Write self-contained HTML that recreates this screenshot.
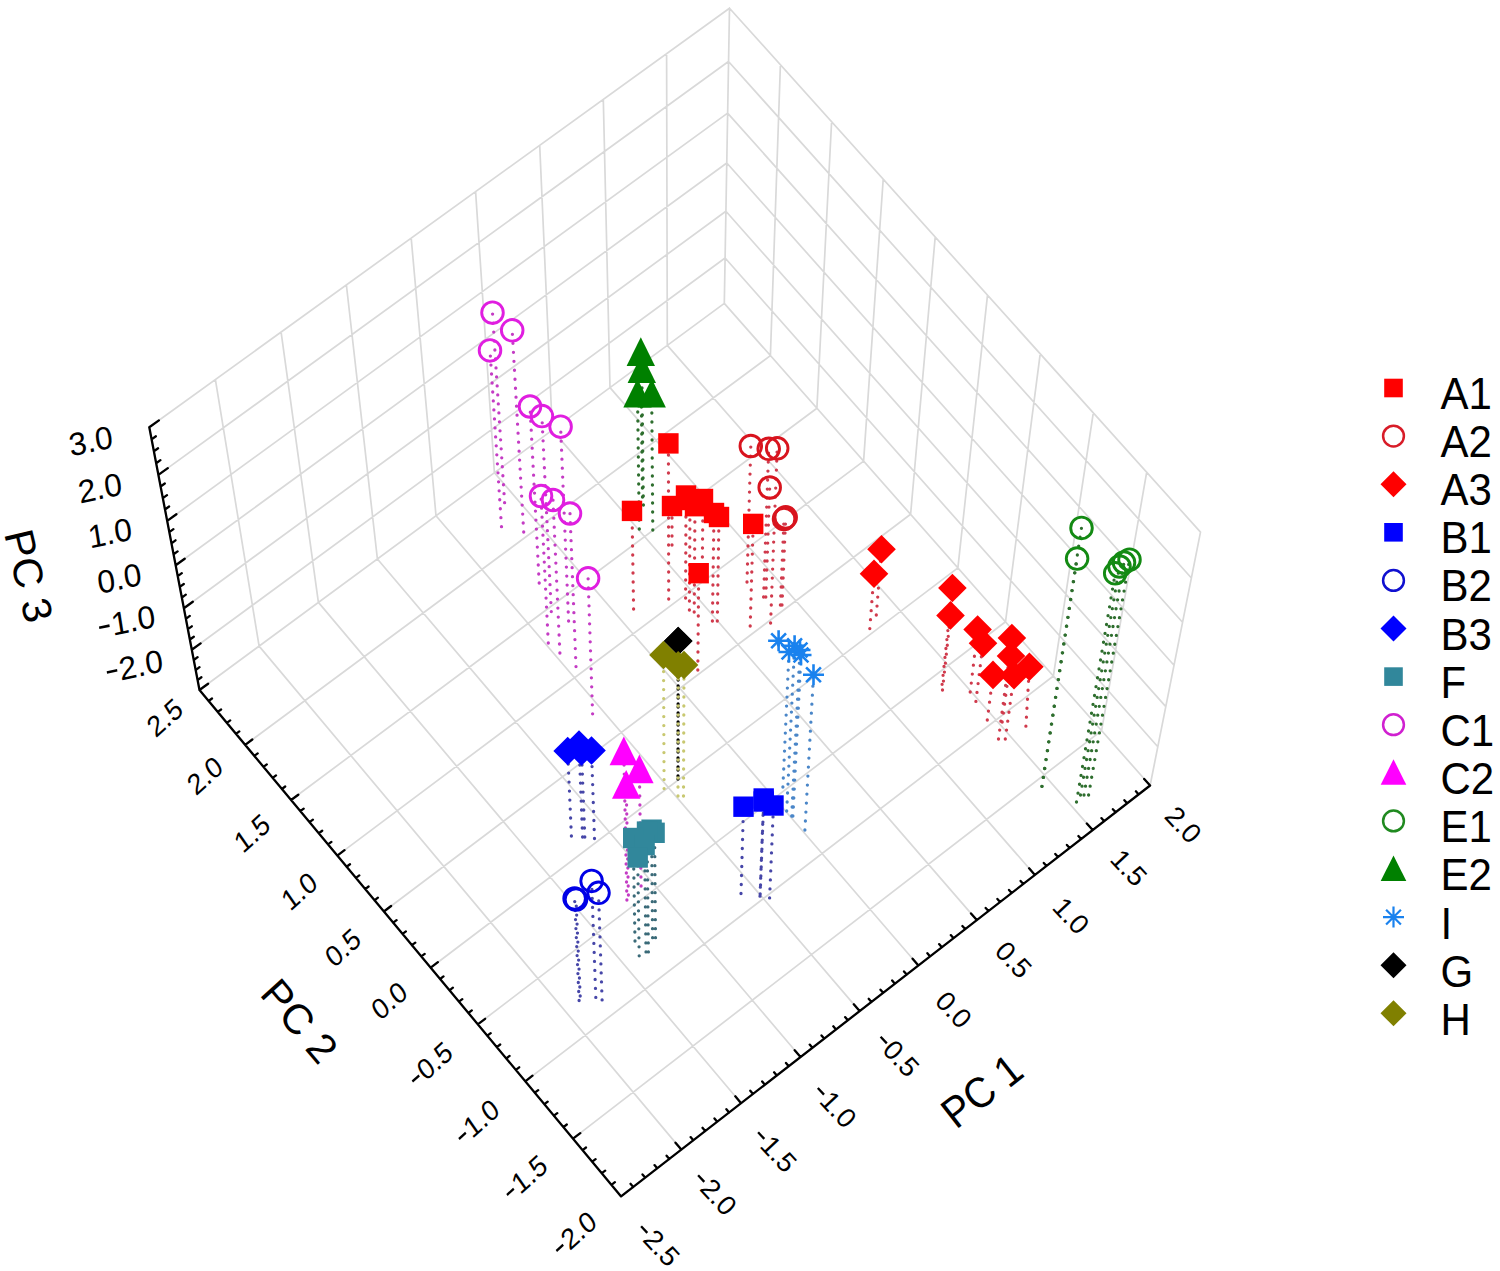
<!DOCTYPE html>
<html><head><meta charset="utf-8"><style>
html,body{margin:0;padding:0;background:#fff;}
body{width:1500px;height:1271px;overflow:hidden;font-family:"Liberation Sans",sans-serif;}
svg{display:block;}
</style></head><body><svg width="1500" height="1271" viewBox="0 0 1500 1271"><path d="M621.1 1196.4L199.5 690.0M681.3 1149.6L259.1 646.1M741.1 1103.2L318.4 602.4M800.5 1057.0L377.4 559.0M859.6 1011.1L436.0 515.8M918.4 965.5L494.4 472.8M976.8 920.1L552.3 430.1M1034.9 875.0L610.0 387.6M1092.7 830.1L667.3 345.4M1150.1 785.5L724.3 303.4M621.1 1196.4L1150.1 785.5M573.0 1138.6L1101.6 730.6M525.3 1081.3L1053.4 676.0M477.8 1024.3L1005.5 621.8M430.7 967.7L957.9 567.9M383.9 911.5L910.6 514.3M337.3 855.6L863.6 461.1M291.1 800.0L816.9 408.2M245.2 744.9L770.4 355.6M199.5 690.0L724.3 303.4M199.5 690.0L149.3 427.3M259.1 646.1L215.4 379.6M318.4 602.4L281.1 332.1M377.4 559.0L346.4 285.0M436.0 515.8L411.2 238.1M494.4 472.8L475.6 191.6M552.3 430.1L539.7 145.3M610.0 387.6L603.3 99.3M667.3 345.4L666.6 53.6M724.3 303.4L729.5 8.2M199.5 690.0L724.3 303.4M191.8 649.8L725.1 258.0M183.9 608.2L725.9 211.3M175.7 565.3L726.8 163.0M167.2 520.9L727.6 113.1M158.4 474.9L728.5 61.5M149.3 427.3L729.5 8.2M1150.1 785.5L1200.5 532.1M1101.6 730.6L1146.7 472.2M1053.4 676.0L1093.3 412.8M1005.5 621.8L1040.2 353.8M957.9 567.9L987.5 295.2M910.6 514.3L935.2 237.0M863.6 461.1L883.2 179.2M816.9 408.2L831.6 121.8M770.4 355.6L780.4 64.8M724.3 303.4L729.5 8.2M1150.1 785.5L724.3 303.4M1157.8 746.7L725.1 258.0M1165.8 706.6L725.9 211.3M1174.0 665.2L726.8 163.0M1182.5 622.3L727.6 113.1M1191.4 578.0L728.5 61.5M1200.5 532.1L729.5 8.2" fill="none" stroke="#d9d9d9" stroke-width="1.7" stroke-linecap="round"/><path d="M199.5 690.0L149.3 427.3M199.5 690.0L621.1 1196.4M621.1 1196.4L1150.1 785.5M199.5 690.0L208.1 683.7M197.6 680.1L201.4 677.3M195.7 670.1L199.5 667.2M193.8 660.0L197.6 657.1M191.8 649.8L200.6 643.4M189.9 639.5L193.8 636.7M187.9 629.2L191.8 626.3M185.9 618.8L189.8 615.9M183.9 608.2L192.8 601.7M181.9 597.6L185.8 594.7M179.8 586.9L183.8 584.0M177.8 576.2L181.8 573.2M175.7 565.3L184.7 558.7M173.6 554.3L177.6 551.4M171.5 543.3L175.5 540.3M169.3 532.1L173.4 529.1M167.2 520.9L176.4 514.2M165.0 509.5L169.1 506.5M162.9 498.1L167.0 495.1M160.6 486.5L164.8 483.5M158.4 474.9L167.8 468.1M156.2 463.2L160.4 460.1M153.9 451.3L158.1 448.3M151.6 439.4L155.9 436.3M149.3 427.3L158.9 420.4M621.1 1196.4L628.4 1190.7M611.5 1184.8L614.9 1182.2M601.8 1173.2L605.2 1170.6M592.2 1161.7L595.6 1159.1M582.6 1150.1L586.0 1147.5M573.0 1138.6L580.3 1133.1M563.5 1127.1L566.8 1124.5M553.9 1115.7L557.3 1113.1M544.4 1104.2L547.7 1101.6M534.8 1092.7L538.2 1090.1M525.3 1081.3L532.5 1075.7M515.8 1069.9L519.2 1067.3M506.3 1058.5L509.6 1055.9M496.8 1047.1L500.2 1044.5M487.3 1035.7L490.7 1033.1M477.8 1024.3L485.1 1018.8M468.4 1013.0L471.8 1010.4M459.0 1001.6L462.3 999.1M449.5 990.3L452.9 987.7M440.1 979.0L443.5 976.4M430.7 967.7L437.9 962.2M421.3 956.4L424.7 953.9M411.9 945.2L415.3 942.6M402.6 933.9L405.9 931.4M393.2 922.7L396.6 920.1M383.9 911.5L391.1 906.0M374.5 900.3L377.9 897.7M365.2 889.1L368.6 886.5M355.9 877.9L359.3 875.4M346.6 866.7L350.0 864.2M337.3 855.6L344.5 850.2M328.1 844.4L331.4 841.9M318.8 833.3L322.2 830.8M309.6 822.2L312.9 819.7M300.3 811.1L303.7 808.6M291.1 800.0L298.3 794.7M281.9 789.0L285.2 786.5M272.7 777.9L276.0 775.4M263.5 766.9L266.8 764.4M254.3 755.9L257.7 753.4M245.2 744.9L252.3 739.5M236.0 733.9L239.3 731.4M226.9 722.9L230.2 720.4M217.7 711.9L221.1 709.5M208.6 701.0L212.0 698.5M199.5 690.0L206.7 684.8M621.1 1196.4L615.3 1189.4M633.2 1187.0L630.5 1183.8M645.2 1177.6L642.5 1174.4M657.2 1168.3L654.5 1165.1M669.3 1159.0L666.6 1155.7M681.3 1149.6L675.5 1142.7M693.3 1140.3L690.6 1137.1M705.2 1131.0L702.5 1127.8M717.2 1121.7L714.5 1118.5M729.1 1112.5L726.4 1109.2M741.1 1103.2L735.3 1096.3M753.0 1093.9L750.3 1090.7M764.9 1084.7L762.2 1081.5M776.8 1075.5L774.1 1072.3M788.7 1066.2L786.0 1063.0M800.5 1057.0L794.7 1050.2M812.4 1047.8L809.7 1044.6M824.2 1038.6L821.5 1035.4M836.0 1029.4L833.3 1026.3M847.8 1020.3L845.1 1017.1M859.6 1011.1L853.8 1004.3M871.4 1002.0L868.7 998.8M883.2 992.8L880.5 989.7M894.9 983.7L892.2 980.5M906.7 974.6L904.0 971.4M918.4 965.5L912.6 958.7M930.1 956.4L927.4 953.2M941.8 947.3L939.1 944.1M953.5 938.2L950.8 935.1M965.2 929.1L962.4 926.0M976.8 920.1L971.0 913.4M988.5 911.0L985.7 907.9M1000.1 902.0L997.4 898.9M1011.7 893.0L1009.0 889.9M1023.3 884.0L1020.6 880.9M1034.9 875.0L1029.1 868.3M1046.5 866.0L1043.8 862.9M1058.0 857.0L1055.3 853.9M1069.6 848.0L1066.9 844.9M1081.1 839.1L1078.4 836.0M1092.7 830.1L1086.8 823.5M1104.2 821.2L1101.4 818.1M1115.7 812.3L1112.9 809.2M1127.1 803.3L1124.4 800.2M1138.6 794.4L1135.9 791.3M1150.1 785.5L1144.2 778.9" fill="none" stroke="#000" stroke-width="2.3" stroke-linejoin="round" stroke-linecap="round"/><g fill="#fff"><circle cx="492.5" cy="312.7" r="10.8"/><circle cx="512.2" cy="330.3" r="10.8"/><circle cx="490.0" cy="350.4" r="10.8"/><circle cx="530.0" cy="406.5" r="10.8"/><circle cx="541.9" cy="416.1" r="10.8"/><circle cx="560.6" cy="426.7" r="10.8"/><circle cx="541.0" cy="496.0" r="10.8"/><circle cx="553.0" cy="500.0" r="10.8"/><circle cx="570.0" cy="513.5" r="10.8"/><circle cx="588.1" cy="578.3" r="10.8"/><circle cx="750.8" cy="446.0" r="10.8"/><circle cx="768.7" cy="448.8" r="10.8"/><circle cx="777.2" cy="448.3" r="10.8"/><circle cx="769.7" cy="487.5" r="10.8"/><circle cx="785.7" cy="517.3" r="10.8"/><circle cx="784.0" cy="519.0" r="10.8"/><circle cx="1081.5" cy="527.9" r="10.8"/><circle cx="1077.1" cy="558.6" r="10.8"/><circle cx="1129.5" cy="559.7" r="10.8"/><circle cx="1124.0" cy="562.5" r="10.8"/><circle cx="1119.5" cy="566.5" r="10.8"/><circle cx="1115.2" cy="573.3" r="10.8"/><circle cx="574.6" cy="898.5" r="10.8"/><circle cx="576.0" cy="899.5" r="10.8"/><circle cx="591.6" cy="880.9" r="10.8"/><circle cx="598.5" cy="892.8" r="10.8"/></g><g fill="none" stroke-width="3.3" stroke-linecap="round" stroke-dasharray="0 9"><line x1="504.6" y1="502.7" x2="492.5" y2="312.7" stroke="#c43cc4"/><line x1="523.7" y1="532.0" x2="512.2" y2="330.3" stroke="#c43cc4"/><line x1="501.5" y1="526.7" x2="490.0" y2="350.4" stroke="#c43cc4"/><line x1="539.2" y1="583.0" x2="530.0" y2="406.5" stroke="#c43cc4"/><line x1="551.3" y1="611.6" x2="541.9" y2="416.1" stroke="#c43cc4"/><line x1="568.6" y1="621.0" x2="560.6" y2="426.7" stroke="#c43cc4"/><line x1="548.3" y1="643.0" x2="541.0" y2="496.0" stroke="#c43cc4"/><line x1="559.9" y1="653.0" x2="553.0" y2="500.0" stroke="#c43cc4"/><line x1="576.0" y1="666.6" x2="570.0" y2="513.5" stroke="#c43cc4"/><line x1="592.6" y1="713.8" x2="588.1" y2="578.3" stroke="#c43cc4"/><line x1="642.5" y1="497.0" x2="640.8" y2="353.2" stroke="#2e6e2e"/><line x1="643.4" y1="505.0" x2="641.8" y2="370.2" stroke="#2e6e2e"/><line x1="639.3" y1="529.0" x2="637.5" y2="394.7" stroke="#2e6e2e"/><line x1="652.8" y1="530.0" x2="651.7" y2="394.7" stroke="#2e6e2e"/><line x1="668.7" y1="599.0" x2="668.4" y2="443.4" stroke="#d03a4c"/><line x1="633.6" y1="609.0" x2="632.0" y2="510.9" stroke="#d03a4c"/><line x1="672.0" y1="545.0" x2="672.0" y2="506.0" stroke="#d03a4c"/><line x1="685.6" y1="598.0" x2="686.0" y2="495.5" stroke="#d03a4c"/><line x1="689.4" y1="610.0" x2="690.0" y2="500.0" stroke="#d03a4c"/><line x1="694.2" y1="612.0" x2="695.0" y2="506.2" stroke="#d03a4c"/><line x1="702.2" y1="575.0" x2="703.0" y2="499.0" stroke="#d03a4c"/><line x1="712.4" y1="621.0" x2="714.0" y2="513.0" stroke="#d03a4c"/><line x1="717.3" y1="621.0" x2="719.0" y2="517.0" stroke="#d03a4c"/><line x1="697.8" y1="670.0" x2="698.7" y2="573.2" stroke="#d03a4c"/><line x1="750.2" y1="626.0" x2="753.2" y2="523.9" stroke="#d03a4c"/><line x1="747.0" y1="582.0" x2="750.8" y2="446.0" stroke="#d03a4c"/><line x1="763.6" y1="597.0" x2="768.7" y2="448.8" stroke="#d03a4c"/><line x1="770.6" y1="623.0" x2="777.2" y2="448.3" stroke="#d03a4c"/><line x1="765.8" y1="597.0" x2="769.7" y2="487.5" stroke="#d03a4c"/><line x1="782.0" y1="605.0" x2="785.7" y2="517.3" stroke="#d03a4c"/><line x1="780.4" y1="605.0" x2="784.0" y2="519.0" stroke="#d03a4c"/><line x1="876.3" y1="615.0" x2="881.5" y2="549.3" stroke="#d03a4c"/><line x1="869.8" y1="628.6" x2="874.0" y2="573.8" stroke="#d03a4c"/><line x1="942.1" y1="684.3" x2="952.4" y2="588.0" stroke="#d03a4c"/><line x1="942.5" y1="690.0" x2="950.5" y2="615.4" stroke="#d03a4c"/><line x1="970.2" y1="692.0" x2="977.6" y2="629.5" stroke="#d03a4c"/><line x1="975.9" y1="701.4" x2="983.0" y2="643.3" stroke="#d03a4c"/><line x1="998.5" y1="739.0" x2="1011.9" y2="638.0" stroke="#d03a4c"/><line x1="1002.2" y1="722.0" x2="1011.0" y2="656.0" stroke="#d03a4c"/><line x1="987.3" y1="720.0" x2="993.0" y2="674.9" stroke="#d03a4c"/><line x1="1025.9" y1="726.2" x2="1029.4" y2="666.7" stroke="#d03a4c"/><line x1="1005.3" y1="739.0" x2="1014.0" y2="675.3" stroke="#d03a4c"/><line x1="1041.8" y1="786.3" x2="1081.5" y2="527.9" stroke="#2e6e2e"/><line x1="1042.1" y1="786.3" x2="1077.1" y2="558.6" stroke="#2e6e2e"/><line x1="1088.6" y1="795.0" x2="1129.5" y2="559.7" stroke="#2e6e2e"/><line x1="1084.0" y1="795.0" x2="1124.0" y2="562.5" stroke="#2e6e2e"/><line x1="1080.5" y1="795.0" x2="1119.5" y2="566.5" stroke="#2e6e2e"/><line x1="1076.5" y1="802.0" x2="1115.2" y2="573.3" stroke="#2e6e2e"/><line x1="778.4" y1="645.0" x2="778.6" y2="640.8" stroke="#4a86c8"/><line x1="786.7" y1="811.0" x2="794.6" y2="645.8" stroke="#4a86c8"/><line x1="782.9" y1="787.0" x2="789.0" y2="652.0" stroke="#4a86c8"/><line x1="791.7" y1="816.0" x2="800.0" y2="650.0" stroke="#4a86c8"/><line x1="792.9" y1="816.0" x2="801.0" y2="655.0" stroke="#4a86c8"/><line x1="804.9" y1="830.0" x2="813.5" y2="674.8" stroke="#4a86c8"/><line x1="741.0" y1="893.5" x2="743.5" y2="806.7" stroke="#4646a8"/><line x1="760.0" y1="896.2" x2="763.7" y2="798.5" stroke="#4646a8"/><line x1="760.2" y1="894.0" x2="763.7" y2="801.5" stroke="#4646a8"/><line x1="769.6" y1="897.9" x2="773.5" y2="805.5" stroke="#4646a8"/><line x1="579.1" y1="1000.5" x2="574.6" y2="898.5" stroke="#4646a8"/><line x1="580.2" y1="996.0" x2="576.0" y2="899.5" stroke="#4646a8"/><line x1="595.8" y1="997.4" x2="591.6" y2="880.9" stroke="#4646a8"/><line x1="602.1" y1="999.9" x2="598.5" y2="892.8" stroke="#4646a8"/><line x1="571.4" y1="836.0" x2="567.7" y2="751.0" stroke="#4646a8"/><line x1="582.6" y1="837.0" x2="579.0" y2="744.5" stroke="#4646a8"/><line x1="584.8" y1="837.0" x2="581.5" y2="751.5" stroke="#4646a8"/><line x1="594.5" y1="838.5" x2="591.5" y2="750.5" stroke="#4646a8"/><line x1="626.9" y1="900.0" x2="623.8" y2="752.5" stroke="#c43cc4"/><line x1="641.1" y1="886.0" x2="639.4" y2="770.5" stroke="#c43cc4"/><line x1="628.4" y1="895.0" x2="626.2" y2="786.0" stroke="#c43cc4"/><line x1="652.6" y1="937.7" x2="651.6" y2="829.7" stroke="#3a6a78"/><line x1="655.5" y1="937.7" x2="654.6" y2="832.8" stroke="#3a6a78"/><line x1="648.4" y1="951.9" x2="647.0" y2="831.6" stroke="#3a6a78"/><line x1="635.0" y1="941.0" x2="633.2" y2="838.0" stroke="#3a6a78"/><line x1="646.0" y1="951.9" x2="644.6" y2="845.1" stroke="#3a6a78"/><line x1="639.2" y1="955.8" x2="637.7" y2="857.5" stroke="#3a6a78"/><line x1="678.0" y1="776.0" x2="678.2" y2="641.0" stroke="#000"/><line x1="678.0" y1="779.0" x2="678.2" y2="641.0" stroke="#000"/><line x1="664.1" y1="788.6" x2="663.5" y2="655.0" stroke="#c8c870"/><line x1="683.5" y1="796.0" x2="684.0" y2="665.0" stroke="#c8c870"/><line x1="678.0" y1="796.0" x2="678.2" y2="665.2" stroke="#c8c870"/></g><circle cx="492.5" cy="312.7" r="10.8" fill="none" stroke="#e01ee0" stroke-width="2.9"/><circle cx="512.2" cy="330.3" r="10.8" fill="none" stroke="#e01ee0" stroke-width="2.9"/><circle cx="490.0" cy="350.4" r="10.8" fill="none" stroke="#e01ee0" stroke-width="2.9"/><circle cx="530.0" cy="406.5" r="10.8" fill="none" stroke="#e01ee0" stroke-width="2.9"/><circle cx="541.9" cy="416.1" r="10.8" fill="none" stroke="#e01ee0" stroke-width="2.9"/><circle cx="560.6" cy="426.7" r="10.8" fill="none" stroke="#e01ee0" stroke-width="2.9"/><circle cx="541.0" cy="496.0" r="10.8" fill="none" stroke="#e01ee0" stroke-width="2.9"/><circle cx="553.0" cy="500.0" r="10.8" fill="none" stroke="#e01ee0" stroke-width="2.9"/><circle cx="570.0" cy="513.5" r="10.8" fill="none" stroke="#e01ee0" stroke-width="2.9"/><circle cx="588.1" cy="578.3" r="10.8" fill="none" stroke="#e01ee0" stroke-width="2.9"/><path d="M640.8 337.2L655.0 365.9L626.6 365.9Z" fill="#008000"/><path d="M641.8 354.2L656.0 382.9L627.6 382.9Z" fill="#008000"/><path d="M637.5 378.7L651.7 407.4L623.3 407.4Z" fill="#008000"/><path d="M651.7 378.7L665.9 407.4L637.5 407.4Z" fill="#008000"/><rect x="658.2" y="433.2" width="20.4" height="20.4" fill="#ff0000"/><rect x="621.8" y="500.7" width="20.4" height="20.4" fill="#ff0000"/><rect x="661.8" y="495.8" width="20.4" height="20.4" fill="#ff0000"/><rect x="675.8" y="485.3" width="20.4" height="20.4" fill="#ff0000"/><rect x="679.8" y="489.8" width="20.4" height="20.4" fill="#ff0000"/><rect x="684.8" y="496.0" width="20.4" height="20.4" fill="#ff0000"/><rect x="692.8" y="488.8" width="20.4" height="20.4" fill="#ff0000"/><rect x="703.8" y="502.8" width="20.4" height="20.4" fill="#ff0000"/><rect x="708.8" y="506.8" width="20.4" height="20.4" fill="#ff0000"/><rect x="688.5" y="563.0" width="20.4" height="20.4" fill="#ff0000"/><rect x="743.0" y="513.7" width="20.4" height="20.4" fill="#ff0000"/><circle cx="750.8" cy="446.0" r="10.8" fill="none" stroke="#d8141e" stroke-width="2.9"/><circle cx="768.7" cy="448.8" r="10.8" fill="none" stroke="#d8141e" stroke-width="2.9"/><circle cx="777.2" cy="448.3" r="10.8" fill="none" stroke="#d8141e" stroke-width="2.9"/><circle cx="769.7" cy="487.5" r="10.8" fill="none" stroke="#d8141e" stroke-width="2.9"/><circle cx="785.7" cy="517.3" r="10.8" fill="none" stroke="#d8141e" stroke-width="2.9"/><circle cx="784.0" cy="519.0" r="10.8" fill="none" stroke="#d8141e" stroke-width="2.9"/><path d="M881.5 535.0L895.8 549.3L881.5 563.6L867.2 549.3Z" fill="#ff0000"/><path d="M874.0 559.5L888.3 573.8L874.0 588.1L859.7 573.8Z" fill="#ff0000"/><path d="M952.4 573.7L966.7 588.0L952.4 602.3L938.1 588.0Z" fill="#ff0000"/><path d="M950.5 601.1L964.8 615.4L950.5 629.7L936.2 615.4Z" fill="#ff0000"/><path d="M977.6 615.2L991.9 629.5L977.6 643.8L963.3 629.5Z" fill="#ff0000"/><path d="M983.0 629.0L997.3 643.3L983.0 657.6L968.7 643.3Z" fill="#ff0000"/><path d="M1011.9 623.7L1026.2 638.0L1011.9 652.3L997.6 638.0Z" fill="#ff0000"/><path d="M1011.0 641.7L1025.3 656.0L1011.0 670.3L996.7 656.0Z" fill="#ff0000"/><path d="M993.0 660.6L1007.3 674.9L993.0 689.2L978.7 674.9Z" fill="#ff0000"/><path d="M1029.4 652.4L1043.7 666.7L1029.4 681.0L1015.1 666.7Z" fill="#ff0000"/><path d="M1014.0 661.0L1028.3 675.3L1014.0 689.6L999.7 675.3Z" fill="#ff0000"/><circle cx="1081.5" cy="527.9" r="10.8" fill="none" stroke="#138a13" stroke-width="2.9"/><circle cx="1077.1" cy="558.6" r="10.8" fill="none" stroke="#138a13" stroke-width="2.9"/><circle cx="1129.5" cy="559.7" r="10.8" fill="none" stroke="#138a13" stroke-width="2.9"/><circle cx="1124.0" cy="562.5" r="10.8" fill="none" stroke="#138a13" stroke-width="2.9"/><circle cx="1119.5" cy="566.5" r="10.8" fill="none" stroke="#138a13" stroke-width="2.9"/><circle cx="1115.2" cy="573.3" r="10.8" fill="none" stroke="#138a13" stroke-width="2.9"/><path d="M768.1 640.8H789.1M778.6 630.3V651.3M771.2 633.4L786.0 648.2M771.2 648.2L786.0 633.4" stroke="#1a82ee" stroke-width="2.6" fill="none"/><path d="M784.1 645.8H805.1M794.6 635.3V656.3M787.2 638.4L802.0 653.2M787.2 653.2L802.0 638.4" stroke="#1a82ee" stroke-width="2.6" fill="none"/><path d="M778.5 652.0H799.5M789.0 641.5V662.5M781.6 644.6L796.4 659.4M781.6 659.4L796.4 644.6" stroke="#1a82ee" stroke-width="2.6" fill="none"/><path d="M789.5 650.0H810.5M800.0 639.5V660.5M792.6 642.6L807.4 657.4M792.6 657.4L807.4 642.6" stroke="#1a82ee" stroke-width="2.6" fill="none"/><path d="M790.5 655.0H811.5M801.0 644.5V665.5M793.6 647.6L808.4 662.4M793.6 662.4L808.4 647.6" stroke="#1a82ee" stroke-width="2.6" fill="none"/><path d="M803.0 674.8H824.0M813.5 664.3V685.3M806.1 667.4L820.9 682.2M806.1 682.2L820.9 667.4" stroke="#1a82ee" stroke-width="2.6" fill="none"/><rect x="733.3" y="796.5" width="20.4" height="20.4" fill="#0000ff"/><rect x="753.5" y="788.3" width="20.4" height="20.4" fill="#0000ff"/><rect x="753.5" y="791.3" width="20.4" height="20.4" fill="#0000ff"/><rect x="763.3" y="795.3" width="20.4" height="20.4" fill="#0000ff"/><circle cx="574.6" cy="898.5" r="10.8" fill="none" stroke="#0000e6" stroke-width="2.9"/><circle cx="576.0" cy="899.5" r="10.8" fill="none" stroke="#0000e6" stroke-width="2.9"/><circle cx="591.6" cy="880.9" r="10.8" fill="none" stroke="#0000e6" stroke-width="2.9"/><circle cx="598.5" cy="892.8" r="10.8" fill="none" stroke="#0000e6" stroke-width="2.9"/><path d="M567.7 736.7L582.0 751.0L567.7 765.3L553.4 751.0Z" fill="#0000ff"/><path d="M579.0 730.2L593.3 744.5L579.0 758.8L564.7 744.5Z" fill="#0000ff"/><path d="M581.5 737.2L595.8 751.5L581.5 765.8L567.2 751.5Z" fill="#0000ff"/><path d="M591.5 736.2L605.8 750.5L591.5 764.8L577.2 750.5Z" fill="#0000ff"/><path d="M623.8 736.5L638.0 765.2L609.6 765.2Z" fill="#ff00ff"/><path d="M639.4 754.5L653.6 783.2L625.2 783.2Z" fill="#ff00ff"/><path d="M626.2 770.0L640.4 798.7L612.0 798.7Z" fill="#ff00ff"/><rect x="641.4" y="819.5" width="20.4" height="20.4" fill="#31879b"/><rect x="644.4" y="822.6" width="20.4" height="20.4" fill="#31879b"/><rect x="636.8" y="821.4" width="20.4" height="20.4" fill="#31879b"/><rect x="623.0" y="827.8" width="20.4" height="20.4" fill="#31879b"/><rect x="634.4" y="834.9" width="20.4" height="20.4" fill="#31879b"/><rect x="627.5" y="847.3" width="20.4" height="20.4" fill="#31879b"/><path d="M678.2 626.7L692.5 641.0L678.2 655.3L663.9 641.0Z" fill="#000"/><path d="M678.2 626.7L692.5 641.0L678.2 655.3L663.9 641.0Z" fill="#000"/><path d="M663.5 640.7L677.8 655.0L663.5 669.3L649.2 655.0Z" fill="#808000"/><path d="M684.0 650.7L698.3 665.0L684.0 679.3L669.7 665.0Z" fill="#808000"/><path d="M678.2 650.9L692.5 665.2L678.2 679.5L663.9 665.2Z" fill="#808000"/><g font-family="Liberation Sans, sans-serif" fill="#000"><text x="0" y="0" transform="matrix(0.9781 -0.2079 0.1564 0.9877 90.8 441.0)" font-size="32" text-anchor="middle" dominant-baseline="central">3.0</text><text x="0" y="0" transform="matrix(0.9781 -0.2079 0.1564 0.9877 100.0 488.0)" font-size="32" text-anchor="middle" dominant-baseline="central">2.0</text><text x="0" y="0" transform="matrix(0.9781 -0.2079 0.1564 0.9877 110.0 533.0)" font-size="32" text-anchor="middle" dominant-baseline="central">1.0</text><text x="0" y="0" transform="matrix(0.9781 -0.2079 0.1564 0.9877 119.4 578.4)" font-size="32" text-anchor="middle" dominant-baseline="central">0.0</text><g transform="matrix(0.9781 -0.2079 0.1564 0.9877 127.0 621.5)"><rect x="-28.5" y="-1.0" width="10.6" height="2.7"/><text x="-16.0" y="0" font-size="32" dominant-baseline="central">1.0</text></g><g transform="matrix(0.9781 -0.2079 0.1564 0.9877 134.7 666.2)"><rect x="-28.5" y="-1.0" width="10.6" height="2.7"/><text x="-16.0" y="0" font-size="32" dominant-baseline="central">2.0</text></g><text x="0" y="0" transform="matrix(0.7431 -0.6691 0.5736 0.8192 164.8 717.8)" font-size="28" text-anchor="middle" dominant-baseline="central">2.5</text><text x="0" y="0" transform="matrix(0.7431 -0.6691 0.5736 0.8192 204.9 775.6)" font-size="28" text-anchor="middle" dominant-baseline="central">2.0</text><text x="0" y="0" transform="matrix(0.7431 -0.6691 0.5736 0.8192 252.1 833.4)" font-size="28" text-anchor="middle" dominant-baseline="central">1.5</text><text x="0" y="0" transform="matrix(0.7431 -0.6691 0.5736 0.8192 299.3 891.2)" font-size="28" text-anchor="middle" dominant-baseline="central">1.0</text><text x="0" y="0" transform="matrix(0.7431 -0.6691 0.5736 0.8192 343.0 947.9)" font-size="28" text-anchor="middle" dominant-baseline="central">0.5</text><text x="0" y="0" transform="matrix(0.7431 -0.6691 0.5736 0.8192 389.3 1000.7)" font-size="28" text-anchor="middle" dominant-baseline="central">0.0</text><g transform="matrix(0.7431 -0.6691 0.5736 0.8192 430.7 1064.7)"><rect x="-24.9" y="-0.9" width="9.2" height="2.4"/><text x="-14.0" y="0" font-size="28" dominant-baseline="central">0.5</text></g><g transform="matrix(0.7431 -0.6691 0.5736 0.8192 477.3 1122.0)"><rect x="-24.9" y="-0.9" width="9.2" height="2.4"/><text x="-14.0" y="0" font-size="28" dominant-baseline="central">1.0</text></g><g transform="matrix(0.7431 -0.6691 0.5736 0.8192 525.3 1178.0)"><rect x="-24.9" y="-0.9" width="9.2" height="2.4"/><text x="-14.0" y="0" font-size="28" dominant-baseline="central">1.5</text></g><g transform="matrix(0.7431 -0.6691 0.5736 0.8192 574.7 1234.0)"><rect x="-24.9" y="-0.9" width="9.2" height="2.4"/><text x="-14.0" y="0" font-size="28" dominant-baseline="central">2.0</text></g><text x="0" y="0" transform="matrix(0.6820 0.7314 -0.7314 0.6820 1183.3 824.8)" font-size="27.5" text-anchor="middle" dominant-baseline="central">2.0</text><text x="0" y="0" transform="matrix(0.6820 0.7314 -0.7314 0.6820 1128.8 867.7)" font-size="27.5" text-anchor="middle" dominant-baseline="central">1.5</text><text x="0" y="0" transform="matrix(0.6820 0.7314 -0.7314 0.6820 1071.0 915.7)" font-size="27.5" text-anchor="middle" dominant-baseline="central">1.0</text><text x="0" y="0" transform="matrix(0.6820 0.7314 -0.7314 0.6820 1013.6 959.8)" font-size="27.5" text-anchor="middle" dominant-baseline="central">0.5</text><text x="0" y="0" transform="matrix(0.6820 0.7314 -0.7314 0.6820 953.7 1009.8)" font-size="27.5" text-anchor="middle" dominant-baseline="central">0.0</text><g transform="matrix(0.6820 0.7314 -0.7314 0.6820 897.5 1054.5)"><rect x="-24.5" y="-0.9" width="9.1" height="2.3"/><text x="-13.8" y="0" font-size="27.5" dominant-baseline="central">0.5</text></g><g transform="matrix(0.6820 0.7314 -0.7314 0.6820 834.7 1105.7)"><rect x="-24.5" y="-0.9" width="9.1" height="2.3"/><text x="-13.8" y="0" font-size="27.5" dominant-baseline="central">1.0</text></g><g transform="matrix(0.6820 0.7314 -0.7314 0.6820 775.0 1150.0)"><rect x="-24.5" y="-0.9" width="9.1" height="2.3"/><text x="-13.8" y="0" font-size="27.5" dominant-baseline="central">1.5</text></g><g transform="matrix(0.6820 0.7314 -0.7314 0.6820 715.0 1193.0)"><rect x="-24.5" y="-0.9" width="9.1" height="2.3"/><text x="-13.8" y="0" font-size="27.5" dominant-baseline="central">2.0</text></g><g transform="matrix(0.6820 0.7314 -0.7314 0.6820 658.0 1244.0)"><rect x="-24.5" y="-0.9" width="9.1" height="2.3"/><text x="-13.8" y="0" font-size="27.5" dominant-baseline="central">2.5</text></g><text x="0" y="0" transform="matrix(0.2404 1.0015 -0.9724 0.2334 28.8 575.8)" font-size="41" text-anchor="middle" dominant-baseline="central">PC 3</text><text x="0" y="0" transform="matrix(0.6621 0.7890 -0.7431 0.6691 299.6 1021.0)" font-size="41" text-anchor="middle" dominant-baseline="central">PC 2</text><text x="0" y="0" transform="matrix(0.7880 -0.6157 0.6649 0.8511 981.7 1090.7)" font-size="40" text-anchor="middle" dominant-baseline="central">PC 1</text></g><g font-family="Liberation Sans, sans-serif" fill="#000"><rect x="1384.2" y="378.7" width="18.6" height="18.6" fill="#ff0000"/><text x="0" y="0" transform="translate(1440.5 408.8) scale(1 1.05)" font-size="42">A1</text><circle cx="1393.5" cy="436.1" r="10.4" fill="none" stroke="#d81c28" stroke-width="2.5"/><text x="0" y="0" transform="translate(1440.5 456.9) scale(1 1.05)" font-size="42">A2</text><path d="M1393.5 471.2L1406.5 484.2L1393.5 497.2L1380.5 484.2Z" fill="#ff0000"/><text x="0" y="0" transform="translate(1440.5 505.1) scale(1 1.05)" font-size="42">A3</text><rect x="1384.2" y="523.0" width="18.6" height="18.6" fill="#0000ff"/><text x="0" y="0" transform="translate(1440.5 553.2) scale(1 1.05)" font-size="42">B1</text><circle cx="1393.5" cy="580.4" r="10.4" fill="none" stroke="#1010d0" stroke-width="2.5"/><text x="0" y="0" transform="translate(1440.5 601.4) scale(1 1.05)" font-size="42">B2</text><path d="M1393.5 615.5L1406.5 628.5L1393.5 641.5L1380.5 628.5Z" fill="#0000ff"/><text x="0" y="0" transform="translate(1440.5 649.5) scale(1 1.05)" font-size="42">B3</text><rect x="1384.2" y="667.3" width="18.6" height="18.6" fill="#31879b"/><text x="0" y="0" transform="translate(1440.5 697.7) scale(1 1.05)" font-size="42">F</text><circle cx="1393.5" cy="724.7" r="10.4" fill="none" stroke="#d020d0" stroke-width="2.5"/><text x="0" y="0" transform="translate(1440.5 745.9) scale(1 1.05)" font-size="42">C1</text><path d="M1393.5 759.3L1406.3 784.8L1380.7 784.8Z" fill="#ff00ff"/><text x="0" y="0" transform="translate(1440.5 794.0) scale(1 1.05)" font-size="42">C2</text><circle cx="1393.5" cy="820.9" r="10.4" fill="none" stroke="#208a20" stroke-width="2.5"/><text x="0" y="0" transform="translate(1440.5 842.1) scale(1 1.05)" font-size="42">E1</text><path d="M1393.5 855.5L1406.3 881.0L1380.7 881.0Z" fill="#008000"/><text x="0" y="0" transform="translate(1440.5 890.3) scale(1 1.05)" font-size="42">E2</text><path d="M1383.0 917.1H1404.0M1393.5 906.6V927.6M1386.1 909.7L1400.9 924.5M1386.1 924.5L1400.9 909.7" stroke="#1a82ee" stroke-width="2.2" fill="none"/><text x="0" y="0" transform="translate(1440.5 938.5) scale(1 1.05)" font-size="42">I</text><path d="M1393.5 952.2L1406.5 965.2L1393.5 978.2L1380.5 965.2Z" fill="#000"/><text x="0" y="0" transform="translate(1440.5 986.6) scale(1 1.05)" font-size="42">G</text><path d="M1393.5 1000.3L1406.5 1013.3L1393.5 1026.3L1380.5 1013.3Z" fill="#808000"/><text x="0" y="0" transform="translate(1440.5 1034.8) scale(1 1.05)" font-size="42">H</text></g></svg></body></html>
